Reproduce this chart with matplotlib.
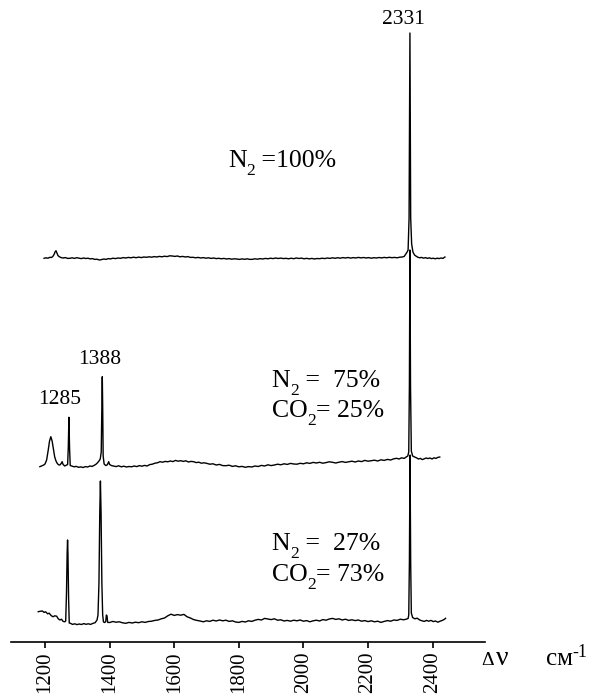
import numpy as np
import matplotlib.pyplot as plt
from matplotlib.transforms import offset_copy

plt.rcParams['font.family'] = ['Liberation Serif', 'DejaVu Serif']

# Raman shift (cm-1) and intensity above own baseline
wn_top = [
    1197, 1203, 1209, 1215, 1220, 1224, 1228, 1231, 1234, 1237, 1240, 1244, 1250, 1256,
    1263, 1270, 1277, 1284, 1291, 1298, 1305, 1312, 1319, 1326, 1333, 1340, 1347, 1354,
    1361, 1368, 1375, 1382, 1389, 1396, 1403, 1410, 1418, 1426, 1434, 1442, 1450, 1458,
    1466, 1474, 1482, 1490, 1498, 1506, 1514, 1522, 1530, 1538, 1546, 1554, 1562, 1570,
    1578, 1586, 1594, 1602, 1610, 1618, 1626, 1634, 1642, 1650, 1658, 1666, 1674, 1682,
    1690, 1698, 1706, 1714, 1722, 1730, 1738, 1746, 1754, 1762, 1770, 1778, 1786, 1794,
    1802, 1810, 1818, 1826, 1834, 1842, 1850, 1858, 1866, 1874, 1882, 1890, 1898, 1906,
    1914, 1922, 1930, 1938, 1946, 1954, 1962, 1970, 1978, 1986, 1994, 2002, 2010, 2018,
    2026, 2034, 2042, 2050, 2058, 2066, 2074, 2082, 2090, 2098, 2106, 2114, 2122, 2130,
    2138, 2146, 2154, 2162, 2170, 2178, 2186, 2194, 2202, 2210, 2218, 2226, 2234, 2242,
    2250, 2258, 2266, 2274, 2282, 2290, 2298, 2306, 2312, 2317, 2321, 2324, 2327, 2329.7,
    2332, 2335, 2339, 2344, 2348, 2354, 2360, 2366, 2372, 2378, 2384, 2390, 2396, 2402,
    2408, 2414, 2420, 2426, 2432, 2438]
int_top = [
    -0.3, 0.2, -0.2, 0.7, 0.5, 1.5, 3.5, 6.0, 7.3, 5.0, 2.5, 1.3, 0.4, 0.0,
    0.4, -0.4, -0.3, 0.2, -0.4, 0.3, -0.2, -0.6, 0.0, -0.5, -0.2, -0.9, -0.6, -1.4,
    -1.2, -2.0, -1.6, -1.0, -1.4, -0.6, -0.9, -0.2, -0.6, 0.0, -0.3, 0.4, 0.0, 0.6,
    0.2, 0.8, 0.3, 0.9, 0.4, 1.0, 0.7, 1.2, 0.8, 1.4, 1.0, 1.6, 1.2, 1.8,
    1.4, 2.2, 2.0, 1.6, 2.0, 1.2, 1.6, 1.0, 1.4, 0.6, 0.7, 0.2, 0.6, 0.0,
    0.4, -0.2, 0.2, -0.4, 0.0, -0.6, -0.3, -0.8, -0.4, -1.0, -0.6, -1.2, -0.8, -1.0,
    -1.4, -0.9, -1.3, -0.8, -1.4, -1.3, -0.8, -1.2, -0.6, -1.0, -0.4, -0.8, -0.2, -0.6,
    0.0, -0.5, -0.1, -0.6, -0.3, -0.8, -0.2, -0.7, 0.0, -0.5, -0.1, -0.8, -0.3, -0.9,
    -0.4, -1.0, -0.5, -0.7, -0.2, -0.6, 0.0, -0.4, 0.2, -0.3, 0.3, -0.2, 0.4, 0.0,
    0.5, -0.1, 0.4, 0.0, 0.6, 0.1, 0.5, 0.0, 0.4, -0.2, 0.3, 0.0, 0.5, 0.1,
    0.6, 0.2, 0.7, 0.3, 0.6, 0.2, 0.8, 1.0, 1.6, 4.0, 6.0, 8.0, 40, 225,
    40, 14, 6.0, 3.0, 2.0, 0.8, 0.2, 0.6, -0.2, 0.4, -0.4, 0.2, -0.6, -0.2,
    -0.8, -0.2, -0.6, 0.0, -0.4, 1.0]

wn_mid = [
    1184, 1190, 1196, 1200, 1205, 1210, 1214, 1218, 1222, 1226, 1230, 1234, 1238, 1242,
    1246, 1250, 1253, 1256, 1261, 1266, 1270, 1272, 1274, 1276, 1278, 1283, 1290, 1297,
    1304, 1311, 1318, 1325, 1332, 1339, 1346, 1352, 1358, 1363, 1367, 1371, 1374, 1376,
    1377.3, 1378.5, 1380, 1383, 1388, 1393, 1397, 1400, 1406, 1412, 1420, 1428, 1436, 1444,
    1452, 1460, 1468, 1476, 1484, 1492, 1500, 1508, 1516, 1524, 1532, 1540, 1548, 1556,
    1564, 1572, 1580, 1588, 1596, 1604, 1612, 1620, 1628, 1636, 1644, 1652, 1660, 1668,
    1676, 1684, 1692, 1700, 1710, 1720, 1730, 1740, 1750, 1760, 1770, 1780, 1790, 1800,
    1810, 1820, 1830, 1840, 1850, 1860, 1870, 1880, 1890, 1900, 1910, 1920, 1930, 1940,
    1950, 1960, 1970, 1980, 1990, 2000, 2010, 2020, 2030, 2040, 2050, 2060, 2070, 2080,
    2090, 2100, 2110, 2120, 2130, 2140, 2150, 2160, 2170, 2180, 2190, 2200, 2210, 2220,
    2230, 2240, 2250, 2260, 2270, 2280, 2288, 2296, 2304, 2312, 2318, 2323, 2326, 2328,
    2329.7, 2331.5, 2334, 2338, 2344, 2350, 2356, 2362, 2368, 2374, 2380, 2386, 2392, 2398,
    2404, 2410, 2416, 2422]
int_mid = [
    -0.7, 0.2, 1.0, 2.0, 6.0, 16, 25, 29.3, 25, 17, 9, 5, 2.5, 1.2,
    1.0, 2.5, 4.3, 1.5, 0.0, 0.8, 1.5, 18, 48.7, 18, 0.5, 0.0, -0.8, -0.4,
    -1.3, -0.9, -1.5, -0.6, -1.0, 0.0, -0.4, 0.6, 1.8, 3.4, 5.0, 7.0, 14, 60,
    89.3, 60, 10, 2.0, 0.5, 1.2, 4.3, 1.5, 0.4, 0.0, -0.6, 0.2, -0.8, -0.2,
    -1.0, -0.5, -0.8, 0.0, -0.6, 0.4, -0.2, 0.6, 0.0, 1.4, 1.8, 2.8, 3.2, 4.3,
    3.8, 4.6, 4.2, 5.0, 4.4, 5.6, 4.8, 5.3, 4.6, 5.2, 4.0, 4.6, 4.3, 3.4,
    3.8, 2.8, 3.2, 2.7, 1.8, 2.2, 1.0, 1.6, 0.4, 0.3, 0.8, -0.4, 0.2, -0.8,
    -0.4, -1.3, -0.6, -1.0, 0.0, -0.5, 0.6, 0.0, 1.2, 0.4, 1.0, 1.8, 1.2, 2.2,
    1.6, 2.6, 2.0, 1.8, 2.7, 2.2, 3.2, 2.6, 3.6, 3.0, 3.7, 2.8, 3.4, 4.2,
    3.7, 3.0, 3.8, 4.4, 3.6, 4.2, 4.8, 4.0, 5.0, 4.4, 5.6, 4.8, 5.3, 5.8,
    5.0, 6.2, 5.6, 6.6, 6.0, 7.2, 7.7, 7.0, 8.2, 7.6, 9.0, 10, 14, 80,
    216, 80, 15, 10, 9.0, 8.2, 7.0, 7.6, 6.4, 7.2, 8.0, 7.4, 8.0, 7.0,
    8.2, 7.6, 8.6, 9.0]

wn_bot = [
    1179, 1186, 1192, 1197, 1202, 1208, 1213, 1219, 1225, 1230, 1236, 1241, 1246, 1251,
    1256, 1261, 1264, 1266.5, 1268.5, 1269.8, 1271, 1273, 1275, 1279, 1285, 1292, 1299, 1306,
    1313, 1320, 1327, 1334, 1341, 1348, 1355, 1361, 1364, 1367, 1369.5, 1371.5, 1373.5, 1376,
    1378.5, 1381, 1385, 1388, 1390, 1392, 1394, 1400, 1410, 1420, 1430, 1440, 1450, 1460,
    1470, 1480, 1490, 1500, 1510, 1520, 1530, 1540, 1550, 1560, 1570, 1580, 1590, 1600,
    1610, 1620, 1630, 1640, 1650, 1660, 1670, 1680, 1690, 1700, 1710, 1720, 1730, 1740,
    1750, 1760, 1770, 1780, 1790, 1800, 1810, 1820, 1830, 1840, 1850, 1860, 1870, 1880,
    1890, 1900, 1910, 1920, 1930, 1940, 1950, 1960, 1970, 1980, 1990, 2000, 2010, 2020,
    2030, 2040, 2050, 2060, 2070, 2080, 2090, 2100, 2110, 2120, 2130, 2140, 2150, 2160,
    2170, 2180, 2190, 2200, 2210, 2220, 2230, 2240, 2250, 2260, 2270, 2280, 2290, 2300,
    2310, 2318, 2324, 2326, 2328, 2330, 2332, 2334, 2338, 2345, 2352, 2360, 2367, 2374,
    2381, 2388, 2395, 2402, 2409, 2416, 2423, 2430, 2437, 2440]
int_bot = [
    11.3, 11.8, 12.0, 10.6, 11.2, 9.2, 9.8, 7.4, 6.2, 7.2, 6.8, 4.2, 3.0, 3.8,
    1.6, 1.2, 2.0, 30, 70, 83, 70, 25, 0.0, -0.3, -1.4, -0.8, -1.6, -1.0,
    -1.5, -0.6, -1.3, -0.8, -1.4, -0.4, 0.3, 3.0, 8.0, 40, 110, 142, 110, 40,
    8.0, 1.0, 0.5, 1.5, 8.0, 7.0, 0.6, 0.5, 1.5, 0.8, 1.2, 0.2, -0.3, 0.6,
    0.0, 0.8, 0.3, 1.2, 0.6, 1.5, 1.8, 2.6, 3.0, 4.2, 5.0, 7.2, 8.8, 7.6,
    8.4, 7.8, 8.6, 6.2, 5.0, 3.4, 2.6, 2.0, 1.2, 2.2, 1.6, 2.8, 2.0, 3.0,
    2.2, 2.8, 1.6, 2.2, 1.0, 0.6, 1.6, 1.0, 2.2, 1.6, 2.8, 3.6, 3.0, 4.6,
    4.0, 3.4, 4.2, 2.8, 3.2, 2.0, 2.6, 1.8, 2.8, 2.2, 3.0, 1.8, 2.4, 1.2,
    2.2, 2.8, 2.0, 3.4, 2.8, 4.0, 4.6, 3.6, 4.2, 3.0, 3.8, 2.6, 3.2, 2.4,
    3.0, 1.8, 2.4, 1.4, 2.2, 1.2, 1.8, 0.6, 1.6, 2.4, 1.8, 3.0, 2.6, 3.8,
    3.2, 3.8, 4.5, 8, 60, 168, 60, 10, 5.5, 4.2, 4.8, 3.0, 2.2, 1.6,
    2.6, 1.8, 2.6, 1.4, 2.0, 0.8, 1.8, 2.6, 3.8, 4.7]

# vertical stacking of the three spectra (baseline positions)
offsets = [384.3, 176.3, 19.3]

tick_values = [1200, 1400, 1600, 1800, 2000, 2200, 2400]
tick_labels = ['1200', '1400', '1600', '1800', '2000', '2200', '2400']

fig = plt.figure(figsize=(5.98, 6.98), dpi=100)
ax = fig.add_axes([11 / 598, 55.7 / 698, 474.3 / 598, 637.3 / 698])

spectra = [(wn_top, int_top), (wn_mid, int_mid), (wn_bot, int_bot)]
for (wn, inten), off in zip(spectra, offsets):
    ax.plot(wn, np.array(inten) + off, color='black', lw=1.0)

ax.set_xlim(1094.7, 2563)
ax.set_ylim(0, 637.3)
for side in ['left', 'right', 'top']:
    ax.spines[side].set_visible(False)
ax.spines['bottom'].set_linewidth(1.2)
ax.set_yticks([])
ax.set_xticks(tick_values)
ax.set_xticklabels(tick_labels, rotation=90, fontsize=15)
ax.tick_params(axis='x', direction='out', length=4.3, width=1.2, pad=2.5)

# peak labels
ax.text(1368, 282.3, '1388', fontsize=15.5, ha='center', va='center')
ax.text(1246, 242.3, '1285', fontsize=15.5, ha='center', va='center')
ax.text(2311, 623.3, '2331', fontsize=15.5, ha='center', va='center')

renderer = fig.canvas.get_renderer()


def formula(x, y, parts, size=18.5):
    """Write text pieces one after another; (text, True) is a subscript."""
    dx = 0.0
    for s, sub in parts:
        tr = offset_copy(ax.transData, fig=fig, x=dx,
                         y=-size * 0.32 if sub else 0, units='points')
        t = ax.text(x, y, s, transform=tr, fontsize=size * 0.68 if sub else size,
                    ha='left', va='baseline')
        dx += t.get_window_extent(renderer).width * 72 / fig.dpi


# composition labels
formula(1766, 475.6, [('N', False), ('2', True), (' =100%', False)])
formula(1902, 255.6, [('N', False), ('2', True), (' =  75%', False)])
formula(1902, 225.6, [('CO', False), ('2', True), ('= 25%', False)])
formula(1902, 92.3, [('N', False), ('2', True), (' =  27%', False)])
formula(1902, 61.6, [('CO', False), ('2', True), ('= 73%', False)])

# axis title
fig.text(481 / 598, 33 / 698, 'Δ', fontsize=14, ha='left', va='baseline')
fig.text(496 / 598, 33 / 698, 'ν', fontsize=20, ha='left', va='baseline')
fig.text(546 / 598, 33 / 698, 'см', fontsize=18, ha='left', va='baseline')
fig.text(572 / 598, 41 / 698, '-1', fontsize=13, ha='left', va='baseline')

fig.savefig('out.png', dpi=100)
